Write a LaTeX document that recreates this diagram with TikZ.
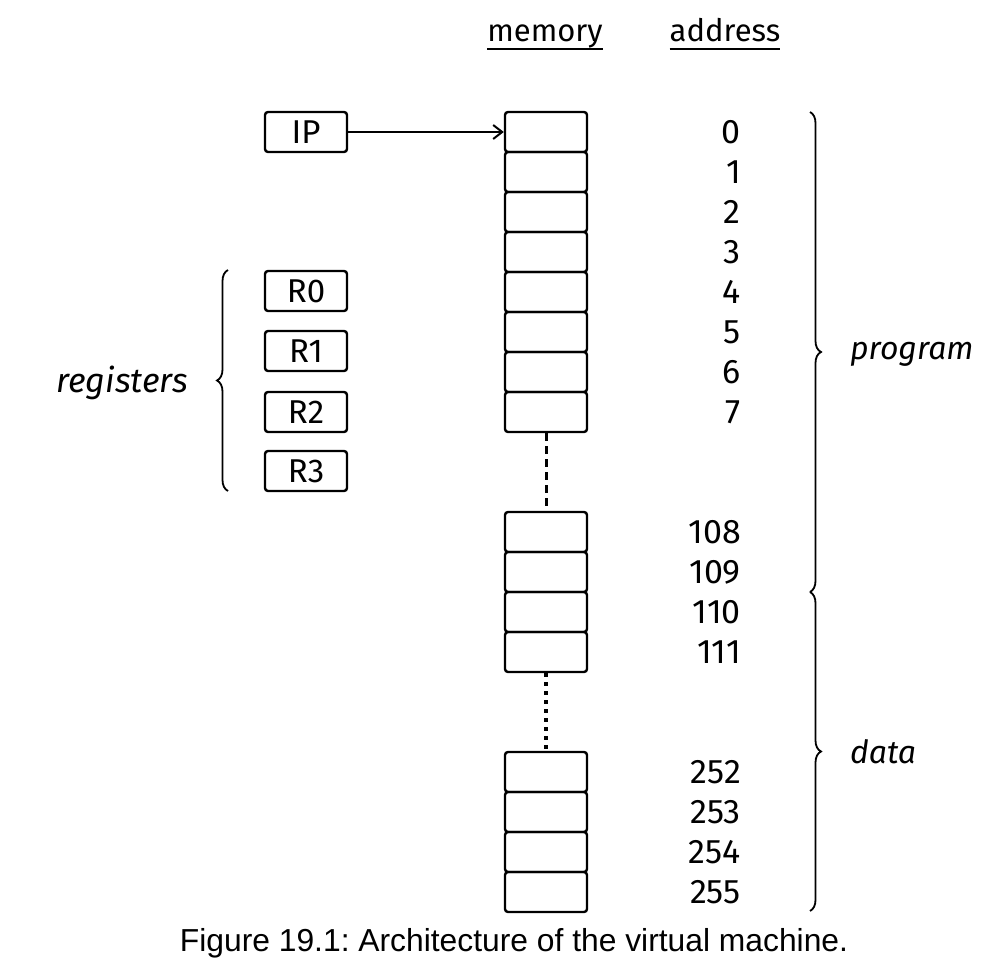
\documentclass[tikz,border=0pt]{standalone}
\usepackage{fontspec}
\setmainfont{Fira Sans}
\newfontfamily\capfont{Liberation Sans}
\usetikzlibrary{arrows.meta,decorations.pathreplacing}
\begin{document}
\frenchspacing
\begin{tikzpicture}[x=1pt,y=-1pt,
  handtext/.style={font=\fontsize{31}{34}\selectfont, inner sep=0pt, anchor=base},
  cellbox/.style={draw, line width=2.4pt, rounded corners=3pt, minimum width=82pt, minimum height=40pt, inner sep=0pt},
  regbox/.style={draw, line width=2.4pt, rounded corners=3pt, minimum width=82pt, minimum height=40pt, inner sep=0pt, font=\fontsize{33}{36}\selectfont},
  addr/.style={anchor=east, inner sep=0pt, font=\fontsize{34}{36}\selectfont},
  bracestyle/.style={decorate, decoration={brace, amplitude=11pt}, line width=1.8pt},
  sidelabel/.style={inner sep=0pt, font=\fontsize{34}{36}\selectfont\itshape}
]
\useasboundingbox (0,0) rectangle (994,976);
\fill[white] (0,0) rectangle (994,976);

% headings
\node[handtext] (memh) at (545,42) {memory};
\node[handtext] (addrh) at (725,42) {address};
\draw[line width=1.6pt] ([yshift=-7pt]memh.base west) -- ([yshift=-7pt]memh.base east);
\draw[line width=1.6pt] ([yshift=-7pt]addrh.base west) -- ([yshift=-7pt]addrh.base east);

% IP and registers
\node[regbox] (ip) at (306,132) {IP};
\node[regbox] (r0) at (306,291) {R0};
\node[regbox] (r1) at (306,351) {R1};
\node[regbox] (r2) at (306,412) {R2};
\node[regbox] (r3) at (306,471) {R3};

% memory cells
\foreach \n/\y in {0/132,1/172,2/212,3/252,4/292,5/332,6/372,7/412,
                   108/532,109/572,110/612,111/652,
                   252/772,253/812,254/852,255/892}{
  \node[cellbox] (c\n) at (546,\y) {};
  \node[addr] (a\n) at (741,\y) {\n};
}

% connectors
\draw[line width=2pt, -{Straight Barb[length=9pt,width=14pt,line width=2pt]}] (ip.east) -- (c0.west);
\draw[line width=3pt, dash pattern=on 8pt off 5pt] (c7.south) -- (c108.north);
\draw[line width=4pt, dash pattern=on 4pt off 5pt] (c111.south) -- (c252.north);

% braces
\coordinate (lbTop) at (228,270);
\coordinate (lbBot) at (228,491);
\draw[bracestyle] (lbBot) -- (lbTop) coordinate[pos=0.5] (lbMid);
\node[sidelabel, anchor=east] (regl) at (188,383) {registers};

\coordinate (pTop) at (810,112);
\coordinate (pBot) at (810,592);
\coordinate (dBot) at (810,911);
\draw[bracestyle] (pTop) -- (pBot);
\draw[bracestyle] (pBot) -- (dBot);
\node[sidelabel, anchor=west, font=\fontsize{32}{36}\selectfont\itshape] (progl) at (850,354) {program};
\node[sidelabel, anchor=west, font=\fontsize{32}{36}\selectfont\itshape] (datal) at (850,752) {data};

% caption
\node[font=\capfont\fontsize{31.8}{34}\selectfont, inner sep=0pt] (cap) at (514,943) {Figure 19.1: Architecture of the virtual machine.};
\end{tikzpicture}
\end{document}
